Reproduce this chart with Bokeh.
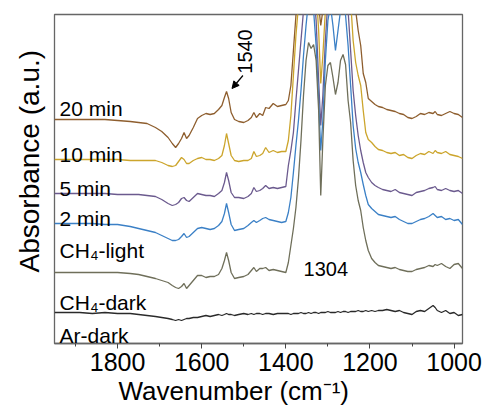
from bokeh.plotting import figure
from bokeh.models import Range1d, FixedTicker, Label, Arrow, NormalHead, Title
from bokeh.embed import file_html
from bokeh.resources import INLINE
import math

# ---------------- data ----------------
wavenumber = [1950, 1920, 1890, 1860, 1830, 1800, 1770, 1750, 1730, 1710, 1695, 1680, 1670, 1662,
              1655, 1648, 1642, 1636, 1630, 1620, 1610, 1600, 1590, 1580, 1570, 1560, 1552, 1546,
              1541, 1536, 1530, 1522, 1512, 1500, 1490, 1482, 1476, 1470, 1462, 1455, 1448, 1440,
              1430, 1420, 1410, 1400,
              1394, 1388, 1382, 1376, 1370, 1364, 1358, 1352, 1346, 1340, 1334, 1328, 1322, 1317,
              1312, 1306, 1300, 1294, 1288, 1282, 1276, 1270, 1264, 1258, 1252, 1246, 1240, 1234,
              1228, 1222, 1216, 1210, 1204,
              1196, 1188, 1180, 1170, 1160, 1150, 1140, 1130, 1120, 1110, 1100, 1090, 1080, 1070,
              1060, 1050, 1045, 1040, 1030, 1020, 1010, 1000, 990, 980]

min20 = [2.24, 2.24, 2.24, 2.24, 2.24, 2.23, 2.22, 2.21, 2.20, 2.16, 2.12, 2.06, 2.00, 1.96, 2.00, 2.05,
         2.11, 2.05, 2.08, 2.16, 2.25, 2.28, 2.30, 2.29, 2.30, 2.34, 2.38, 2.46, 2.52, 2.45, 2.31, 2.24,
         2.22, 2.21, 2.23, 2.26, 2.31, 2.26, 2.30, 2.28, 2.36, 2.35, 2.40, 2.37, 2.38, 2.39,
         2.43, 2.58, 2.93, 3.28, 3.63, 3.83, 3.83, 3.83, 3.83, 3.73, 3.78, 3.63, 3.38, 3.18, 3.33, 3.63,
         3.83, 3.83, 3.83, 3.73, 3.78, 3.83, 3.83, 3.83, 3.83, 3.73, 3.53, 3.33, 3.13, 2.98, 2.70, 2.61, 2.45,
         2.42, 2.39, 2.37, 2.36, 2.34, 2.33, 2.32, 2.30, 2.29, 2.26, 2.25, 2.27, 2.30, 2.29, 2.31, 2.30,
         2.32, 2.29, 2.28, 2.30, 2.32, 2.30, 2.29, 2.26]

min10 = [1.84, 1.84, 1.84, 1.84, 1.84, 1.84, 1.83, 1.83, 1.83, 1.83, 1.81, 1.78, 1.77, 1.78, 1.82, 1.86,
         1.84, 1.80, 1.80, 1.83, 1.85, 1.86, 1.84, 1.84, 1.83, 1.85, 1.88, 1.98, 2.10, 2.00, 1.88, 1.83,
         1.82, 1.83, 1.83, 1.85, 1.92, 1.87, 1.88, 1.90, 1.96, 1.91, 1.93, 1.91, 1.92, 1.92,
         2.03, 2.28, 2.68, 3.08, 3.38, 3.73, 3.83, 3.83, 3.83, 3.83, 3.73, 3.53, 3.13, 2.60, 2.88, 3.33,
         3.73, 3.83, 3.83, 3.73, 3.83, 3.83, 3.83, 3.83, 3.73, 3.43, 3.03, 2.81, 2.68, 2.58, 2.33, 2.11, 2.04,
         2.01, 1.97, 1.94, 1.93, 1.91, 1.90, 1.91, 1.88, 1.89, 1.86, 1.85, 1.88, 1.90, 1.89, 1.92, 1.90,
         1.93, 1.91, 1.90, 1.92, 1.89, 1.88, 1.87, 1.85]

min5 = [1.50, 1.50, 1.50, 1.50, 1.50, 1.49, 1.49, 1.49, 1.48, 1.47, 1.44, 1.40, 1.38, 1.39, 1.41, 1.45,
        1.46, 1.43, 1.42, 1.46, 1.50, 1.49, 1.48, 1.48, 1.47, 1.50, 1.53, 1.61, 1.71, 1.63, 1.51, 1.46,
        1.46, 1.45, 1.47, 1.50, 1.56, 1.52, 1.53, 1.55, 1.58, 1.55, 1.56, 1.55, 1.56, 1.57,
        1.78, 1.93, 2.11, 2.43, 2.73, 3.03, 3.33, 3.63, 3.83, 3.73, 3.53, 3.23, 2.63, 2.18, 2.48, 3.03,
        3.43, 3.73, 3.63, 3.33, 3.53, 3.73, 3.73, 3.63, 3.33, 2.93, 2.53, 2.28, 2.08, 1.93, 1.81, 1.71, 1.66,
        1.61, 1.58, 1.56, 1.54, 1.53, 1.52, 1.54, 1.51, 1.50, 1.49, 1.48, 1.51, 1.52, 1.53, 1.55, 1.56,
        1.57, 1.54, 1.53, 1.55, 1.53, 1.52, 1.53, 1.50]

min2 = [1.20, 1.20, 1.20, 1.20, 1.19, 1.19, 1.17, 1.15, 1.13, 1.11, 1.08, 1.05, 1.03, 1.03, 1.04, 1.07,
        1.10, 1.06, 1.07, 1.11, 1.15, 1.16, 1.15, 1.14, 1.15, 1.18, 1.22, 1.30, 1.40, 1.31, 1.19, 1.13,
        1.14, 1.15, 1.18, 1.21, 1.23, 1.21, 1.23, 1.25, 1.26, 1.24, 1.23, 1.22, 1.21, 1.22,
        1.31, 1.46, 1.71, 1.98, 2.23, 2.53, 2.88, 3.18, 3.43, 3.53, 3.33, 2.98, 2.43, 1.93, 2.23, 2.83,
        3.23, 3.38, 3.18, 2.93, 3.13, 3.33, 3.43, 3.28, 2.98, 2.58, 2.18, 1.95, 1.81, 1.71, 1.59, 1.48, 1.39,
        1.35, 1.32, 1.29, 1.28, 1.27, 1.26, 1.27, 1.24, 1.22, 1.20, 1.20, 1.22, 1.24, 1.25, 1.27, 1.30,
        1.28, 1.26, 1.27, 1.24, 1.25, 1.23, 1.24, 1.19]

ch4 = [0.71, 0.71, 0.71, 0.71, 0.71, 0.71, 0.70, 0.69, 0.67, 0.65, 0.63, 0.61, 0.58, 0.56, 0.55, 0.57,
       0.60, 0.55, 0.58, 0.63, 0.68, 0.68, 0.66, 0.67, 0.67, 0.69, 0.75, 0.83, 0.91, 0.83, 0.71, 0.65,
       0.66, 0.67, 0.69, 0.73, 0.76, 0.72, 0.75, 0.75, 0.76, 0.73, 0.74, 0.73, 0.72, 0.71,
       0.81, 0.98, 1.15, 1.36, 1.65, 2.03, 2.48, 2.83, 3.01, 2.95, 2.99, 2.83, 2.33, 1.48, 2.03, 2.58,
       2.78, 2.81, 2.66, 2.49, 2.61, 2.83, 2.89, 2.79, 2.43, 2.21, 1.83, 1.58, 1.43, 1.33, 1.16, 1.03, 0.93,
       0.85, 0.81, 0.78, 0.77, 0.76, 0.75, 0.76, 0.74, 0.73, 0.72, 0.72, 0.74, 0.75, 0.76, 0.78, 0.77,
       0.79, 0.78, 0.80, 0.77, 0.75, 0.79, 0.80, 0.75]

ar_dark = [0.31, 0.31, 0.31, 0.30, 0.31, 0.30, 0.30, 0.29, 0.28, 0.27, 0.26, 0.25, 0.24, 0.23, 0.24, 0.23,
           0.24, 0.25, 0.25, 0.26, 0.26, 0.27, 0.28, 0.27, 0.28, 0.29, 0.28, 0.29, 0.30, 0.29, 0.29, 0.28,
           0.29, 0.30, 0.29, 0.30, 0.29, 0.30, 0.30, 0.29, 0.30, 0.30, 0.29, 0.30, 0.30, 0.30,
           0.30, 0.29, 0.30, 0.30, 0.30, 0.31, 0.30, 0.30, 0.31, 0.30, 0.31, 0.31, 0.30, 0.31, 0.31, 0.31,
           0.32, 0.31, 0.31, 0.31, 0.32, 0.31, 0.32, 0.32, 0.31, 0.32, 0.32, 0.32, 0.33, 0.32, 0.32, 0.33, 0.32,
           0.33, 0.32, 0.33, 0.33, 0.34, 0.33, 0.32, 0.33, 0.31, 0.30, 0.29, 0.32, 0.33, 0.32, 0.35, 0.38,
           0.36, 0.33, 0.31, 0.33, 0.30, 0.31, 0.28, 0.29]

series_names = ["20 min", "10 min", "5 min", "2 min", "CH4", "Ar-dark"]
series_values = [min20, min10, min5, min2, ch4, ar_dark]
series_colors = ["#8E5E2E", "#CCA52C", "#6B5A8E", "#3B80C6", "#6F6F5A", "#2A2A2A"]

curve_labels = ["20 min", "10 min", "5 min", "2 min", "CH\u2084-light", "CH\u2084-dark", "Ar-dark"]
label_y = [2.35, 1.89, 1.55, 1.25, 0.93, 0.41, 0.08]

major_ticks = [1800, 1600, 1400, 1200, 1000]
minor_ticks = [1900, 1700, 1500, 1300, 1100]

FONT = "Liberation Sans"

# ---------------- figure ----------------
p = figure(width=489, height=412, x_range=Range1d(1950, 980), y_range=Range1d(0, 3.29),
           output_backend="svg", toolbar_location=None, y_axis_location=None,
           min_border_left=54, min_border_right=27, min_border_top=14, min_border_bottom=69)
p.grid.visible = False
p.background_fill_color = "white"
p.border_fill_color = "white"
p.outline_line_color = "#666666"
p.outline_line_width = 1.3

ax = p.xaxis[0]
ax.ticker = FixedTicker(ticks=major_ticks, minor_ticks=minor_ticks)
ax.axis_line_color = "#666666"
ax.axis_line_width = 1.3
ax.major_tick_in = 0
ax.major_tick_out = 5
ax.minor_tick_in = 0
ax.minor_tick_out = 3
ax.major_tick_line_color = "#444444"
ax.minor_tick_line_color = "#444444"
ax.major_label_text_font = FONT
ax.major_label_text_font_size = "25px"
ax.major_label_text_color = "black"
ax.major_label_standoff = 4

for vals, col in zip(series_values, series_colors):
    p.line(wavenumber, vals, line_color=col, line_width=1.3)

for txt, yy in zip(curve_labels, label_y):
    p.add_layout(Label(x=1938, y=yy, text=txt, text_font=FONT, text_font_size="21px",
                       text_color="black", text_align="left", text_baseline="alphabetic"))

# peak annotations
p.add_layout(Label(x=1497, y=2.92, text="1540", angle=math.pi / 2, text_font=FONT,
                   text_font_size="20px", text_color="black",
                   text_align="center", text_baseline="alphabetic"))
p.add_layout(Arrow(end=NormalHead(size=7, fill_color="black", line_color="black"),
                   x_start=1502, y_start=2.68, x_end=1528, y_end=2.55,
                   line_color="black", line_width=1.2))
p.add_layout(Label(x=1305, y=0.75, text="1304", text_font=FONT, text_font_size="20px",
                   text_color="black", text_align="center", text_baseline="alphabetic"))

# axis titles
p.add_layout(Title(text="Absorbance (a.u.)", text_font=FONT, text_font_size="28px",
                   text_font_style="normal", text_color="black", align="left",
                   offset=71, standoff=19), "left")
p.add_layout(Title(text="Wavenumber (cm\u207b\u00b9)", text_font=FONT, text_font_size="26px",
                   text_font_style="normal", text_color="black", align="left",
                   offset=64, standoff=0), "below")

open("out.html", "w").write(file_html(p, INLINE))
